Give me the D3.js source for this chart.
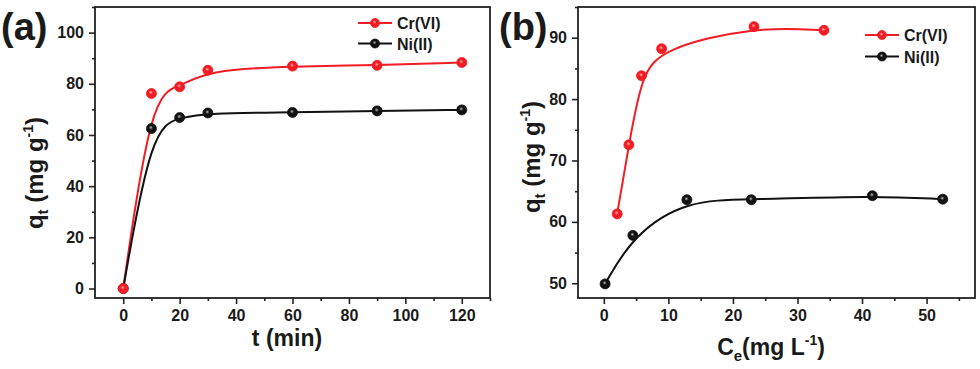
<!DOCTYPE html>
<html><head><meta charset="utf-8">
<script src="https://cdn.jsdelivr.net/npm/d3@7"></script>
<style>
body{margin:0;background:#fff;}
text{font-family:"Liberation Sans",Arial,sans-serif;font-weight:bold;fill:#1a1a1a;}
</style></head>
<body><svg id="c" width="980" height="369"></svg>
<script>
// Panel (a): kinetics
const tA = [0, 10, 20, 30, 60, 90, 120];
const crA = [0, 76.2, 78.8, 85.3, 86.9, 87.2, 88.3];
const niA = [0, 62.5, 66.8, 68.6, 68.8, 69.4, 69.8];
const xTicksA = [0, 20, 40, 60, 80, 100, 120];
const yTicksA = [0, 20, 40, 60, 80, 100];
// Panel (b): isotherm
const ceCr = [2.07, 3.88, 5.84, 8.95, 23.26, 34.1];
const qCr = [61.3, 72.55, 83.8, 88.2, 91.8, 91.2];
const ceNi = [0.2, 4.5, 12.87, 22.85, 41.6, 52.5];
const qNi = [49.9, 57.8, 63.6, 63.6, 64.26, 63.7];
const xTicksB = [0, 10, 20, 30, 40, 50];
const yTicksB = [50, 60, 70, 80, 90];
const seriesNames = ["Cr(VI)", "Ni(II)"];

const RED = "#f21c24", BLACK = "#111";
const svg = d3.select("#c");
const defs = svg.append("defs");
function grad(id, base, hi){
  const g = defs.append("radialGradient").attr("id", id).attr("cx","45%").attr("cy","40%").attr("r","60%");
  g.append("stop").attr("offset","0%").attr("stop-color",hi);
  g.append("stop").attr("offset","35%").attr("stop-color",base);
  g.append("stop").attr("offset","100%").attr("stop-color",base);
}
grad("gr", RED, "#ffb0b0");
grad("gb", BLACK, "#bbbbbb");

function panel(cfg){
  const g = svg.append("g");
  const x = d3.scaleLinear().domain(cfg.xd).range([cfg.l, cfg.r]);
  const y = d3.scaleLinear().domain(cfg.yd).range([cfg.b, cfg.t]);
  const xa = g.append("g").attr("transform", `translate(0,${cfg.b})`)
    .call(d3.axisBottom(x).tickValues(cfg.xt).tickSize(6).tickFormat(d3.format("d")));
  const xm = g.append("g").attr("transform", `translate(0,${cfg.b})`)
    .call(d3.axisBottom(x).tickValues(cfg.xm).tickSize(3).tickFormat(""));
  const ya = g.append("g").attr("transform", `translate(${cfg.l},0)`)
    .call(d3.axisLeft(y).tickValues(cfg.yt).tickSize(6).tickFormat(d3.format("d")));
  const ym = g.append("g").attr("transform", `translate(${cfg.l},0)`)
    .call(d3.axisLeft(y).tickValues(cfg.ym).tickSize(3).tickFormat(""));
  [xa,xm,ya,ym].forEach(a=>{
    a.select(".domain").remove();
    a.selectAll("line").attr("stroke","#222").attr("stroke-width",1.6);
    a.selectAll("text").attr("font-size",16).attr("fill","#1a1a1a").style("font-weight","bold");
  });
  xa.selectAll("text").attr("dy","0").attr("y",23);
  ya.selectAll("text").attr("x",-11);
  g.append("rect").attr("x",cfg.l).attr("y",cfg.t).attr("width",cfg.r-cfg.l).attr("height",cfg.b-cfg.t)
    .attr("fill","none").attr("stroke","#222").attr("stroke-width",1.8);
  const line = d3.line().x(d=>x(d[0])).y(d=>y(d[1])).curve(d3.curveBasis);
  cfg.series.forEach(s=>{
    const pts = s.xs.map((v,i)=>[v, s.ys[i]]);
    g.append("path").attr("d", line(pts)).attr("fill","none").attr("stroke",s.color).attr("stroke-width",2);
  });
  cfg.series.slice().reverse().forEach(s=>{
    g.selectAll(null).data(s.xs.map((v,i)=>[v,s.ys[i]])).enter().append("circle")
      .attr("cx",d=>x(d[0])).attr("cy",d=>y(d[1])).attr("r",5)
      .attr("fill",`url(#${s.grad})`).attr("stroke",s.color).attr("stroke-width",0.8);
  });
  cfg.series.forEach((s,i)=>{
    const ly = cfg.leg[1] + i*cfg.legGap;
    g.append("line").attr("x1",cfg.leg[0]).attr("x2",cfg.leg[0]+34).attr("y1",ly).attr("y2",ly)
      .attr("stroke",s.color).attr("stroke-width",2);
    g.append("circle").attr("cx",cfg.leg[0]+17).attr("cy",ly).attr("r",4.5)
      .attr("fill",`url(#${s.grad})`).attr("stroke",s.color).attr("stroke-width",0.8);
    g.append("text").attr("x",cfg.leg[0]+39).attr("y",ly+6).attr("font-size",16).text(s.name);
  });
  g.append("text").attr("x",cfg.lab[0]).attr("y",cfg.lab[1]).attr("font-size",38).text(cfg.label);
  const yl = g.append("text").attr("transform",`translate(${cfg.yl[0]},${cfg.yl[1]}) rotate(-90)`)
    .attr("text-anchor","middle").attr("font-size",24);
  yl.append("tspan").text("q");
  yl.append("tspan").attr("font-size",15).attr("dy",5).text("t");
  yl.append("tspan").attr("dy",-5).text(" (mg g");
  yl.append("tspan").attr("font-size",14).attr("dy",-10).text("-1");
  yl.append("tspan").attr("dy",10).text(")");
  const xl = g.append("text").attr("x",cfg.xl[0]).attr("y",cfg.xl[1]).attr("text-anchor","middle").attr("font-size",23);
  cfg.xlab(xl);
}

panel({
  l:95, r:490, t:7, b:298,
  xd:[-10,130], yd:[-3.7,110],
  xt:xTicksA, xm:[10,30,50,70,90,110,130], yt:yTicksA, ym:[10,30,50,70,90,110],
  series:[{name:seriesNames[0], xs:tA, ys:crA, color:RED, grad:"gr"},
          {name:seriesNames[1], xs:tA, ys:niA, color:BLACK, grad:"gb"}],
  leg:[358,23], legGap:20.5,
  lab:[1,40], label:"(a)",
  yl:[43,173],
  xl:[287,346],
  xlab: t=>t.text("t (min)")
});

panel({
  l:578, r:975, t:7, b:298,
  xd:[-4,57.5], yd:[47.6,95],
  xt:xTicksB, xm:[5,15,25,35,45,55], yt:yTicksB, ym:[55,65,75,85,95],
  series:[{name:seriesNames[0], xs:ceCr, ys:qCr, color:RED, grad:"gr"},
          {name:seriesNames[1], xs:ceNi, ys:qNi, color:BLACK, grad:"gb"}],
  leg:[865,35], legGap:21.5,
  lab:[499,40], label:"(b)",
  yl:[540,157],
  xl:[771,355],
  xlab: t=>{
    t.append("tspan").text("C");
    t.append("tspan").attr("font-size",15).attr("dy",6).text("e");
    t.append("tspan").attr("dy",-6).text("(mg L");
    t.append("tspan").attr("font-size",14).attr("dy",-10).text("-1");
    t.append("tspan").attr("dy",10).text(")");
  }
});
</script></body></html>
